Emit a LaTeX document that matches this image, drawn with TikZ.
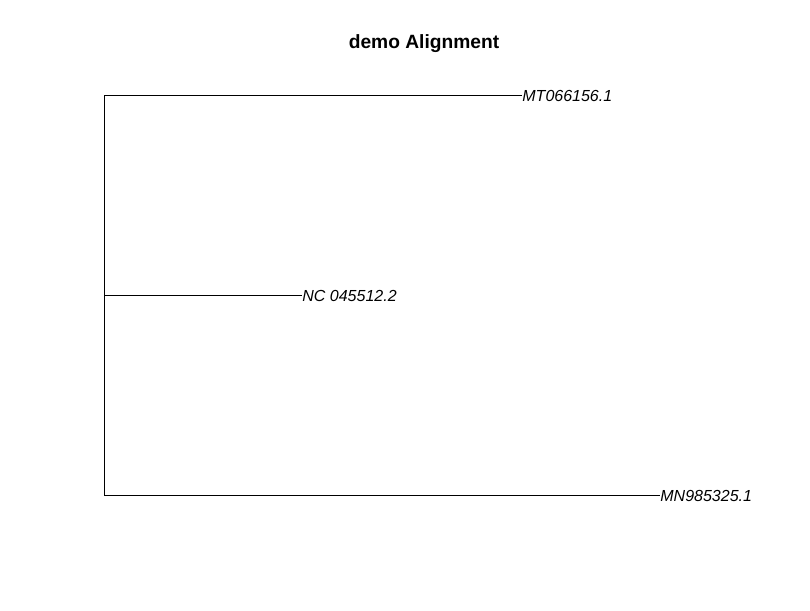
\documentclass[tikz,border=0pt]{standalone}
\usepackage{fontspec}
\setmainfont{Liberation Sans}
\usetikzlibrary{positioning}

\begin{document}
\begin{tikzpicture}[x=1pt, y=-1pt, line width=0.8pt,
    tip/.style={anchor=west, inner sep=0pt, yshift=-1.2pt, font=\fontsize{16}{16}\selectfont\itshape}]
    \useasboundingbox (0,0) rectangle (810,610);

    % The title
    \node[anchor=base, inner sep=0pt, font=\fontsize{19.2}{20}\selectfont\bfseries] (title) at (424,48.5) {demo Alignment};

    % root of the tree
    \coordinate (top) at (104,95);
    \coordinate (mid) at (104,295);
    \coordinate (bot) at (104,495);

    % the leaves
    \node[tip] (mt) at (522,95) {MT066156.1};
    \node[tip] (nc) at (302,295) {NC 045512.2};
    \node[tip] (mn) at (660,495) {MN985325.1};

    % branches
    \draw (top) -- (bot);
    \draw (top) -- (top -| mt.west);
    \draw (mid) -- (mid -| nc.west);
    \draw (bot) -- (bot -| mn.west);
\end{tikzpicture}
\end{document}
